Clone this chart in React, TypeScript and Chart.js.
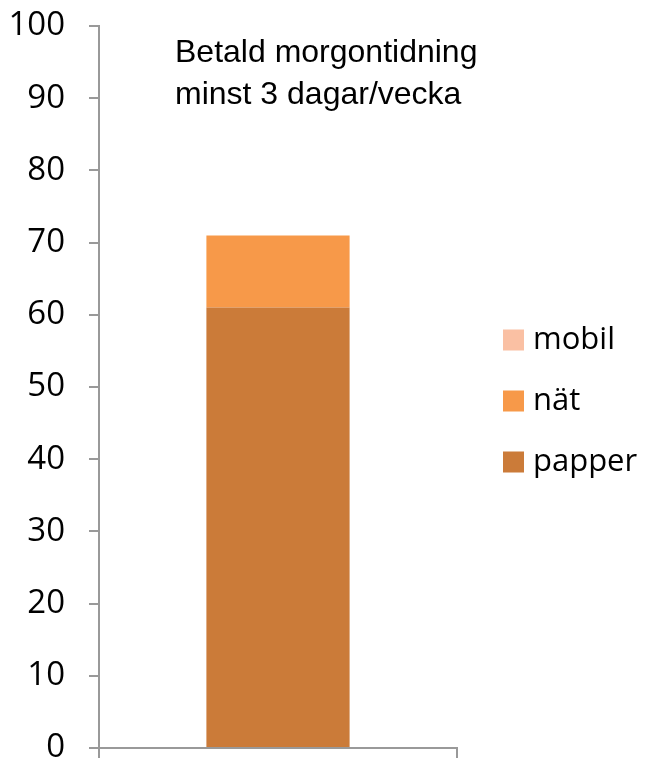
import React, { useEffect, useRef } from "react";
import { Chart, registerables } from "chart.js";

Chart.register(...registerables);

const categories = [""];
const papper = [61];
const nat = [10];
const mobil = [0];
const seriesLabels = ["papper", "nät", "mobil"];
const seriesColors = ["#CB7B39", "#F79949", "#FAC0A3"];
const titleLines = ["Betald morgontidning", "minst 3 dagar/vecka"];
const yTicks = [0, 10, 20, 30, 40, 50, 60, 70, 80, 90, 100];

const TICK_FONT = "'Open Sans', 'DejaVu Sans', sans-serif";

const overlayPlugin = {
  id: "overlay",
  afterDraw(chart: any) {
    const ctx = chart.ctx;
    const area = chart.chartArea;
    ctx.save();
    // title inside plot
    ctx.fillStyle = "#000";
    ctx.font = "32px 'Liberation Sans', Arial, sans-serif";
    ctx.textAlign = "left";
    ctx.textBaseline = "alphabetic";
    titleLines.forEach((t, i) => {
      ctx.fillText(t, area.left + 76, area.top + 36 + i * 42);
    });
    // legend (reversed order)
    const ds = chart.data.datasets;
    const n = ds.length;
    ctx.font = `31px ${TICK_FONT}`;
    ctx.textBaseline = "middle";
    for (let k = 0; k < n; k++) {
      const d = ds[n - 1 - k];
      const cy = 340 + k * 61;
      ctx.fillStyle = d.backgroundColor;
      ctx.fillRect(503, cy - 10.5, 21, 21);
      ctx.fillStyle = "#000";
      ctx.fillText(d.label, 533, cy);
    }
    ctx.restore();
  },
};

export default function App() {
  const ref = useRef<HTMLCanvasElement>(null);
  useEffect(() => {
    const chart = new Chart(ref.current!, {
      type: "bar",
      data: {
        labels: categories,
        datasets: [
          { label: seriesLabels[0], data: papper, backgroundColor: seriesColors[0] },
          { label: seriesLabels[1], data: nat, backgroundColor: seriesColors[1] },
          { label: seriesLabels[2], data: mobil, backgroundColor: seriesColors[2] },
        ],
      },
      options: {
        animation: false,
        responsive: false,
        layout: { padding: { left: 0, right: 189, top: 26, bottom: 0 } },
        plugins: { legend: { display: false }, tooltip: { enabled: false } },
        datasets: { bar: { categoryPercentage: 0.4, barPercentage: 1 } },
        scales: {
          x: {
            stacked: true,
            offset: true,
            grid: { display: true, drawOnChartArea: false, drawTicks: true, tickLength: 10, color: "#999", offset: true, lineWidth: 2 },
            border: { display: true, color: "#999", width: 2 },
            ticks: { display: false },
            afterFit: (s: any) => {
              s.height = 12;
              s.paddingLeft = 0; s.paddingRight = 0; s.paddingTop = 0; s.paddingBottom = 0;
            },
          },
          y: {
            stacked: true,
            min: 0,
            max: 100,
            afterBuildTicks: (s: any) => { s.ticks = yTicks.map((v) => ({ value: v })); },
            grid: { display: true, drawOnChartArea: false, drawTicks: true, tickLength: 10, color: "#999", lineWidth: 2 },
            border: { display: true, color: "#999", width: 2 },
            ticks: { color: "#000", padding: 24, font: { family: TICK_FONT, size: 33 } },
            afterFit: (s: any) => {
              s.width = 99;
              s.paddingTop = 0; s.paddingBottom = 0; s.paddingLeft = 0; s.paddingRight = 0;
            },
          },
        },
      },
      plugins: [overlayPlugin],
    });
    return () => chart.destroy();
  }, []);
  return (
    <div style={{ position: "absolute", left: 0, top: 0, width: 646, height: 760, background: "#fff" }}>
      <canvas ref={ref} width={646} height={760} />
    </div>
  );
}
